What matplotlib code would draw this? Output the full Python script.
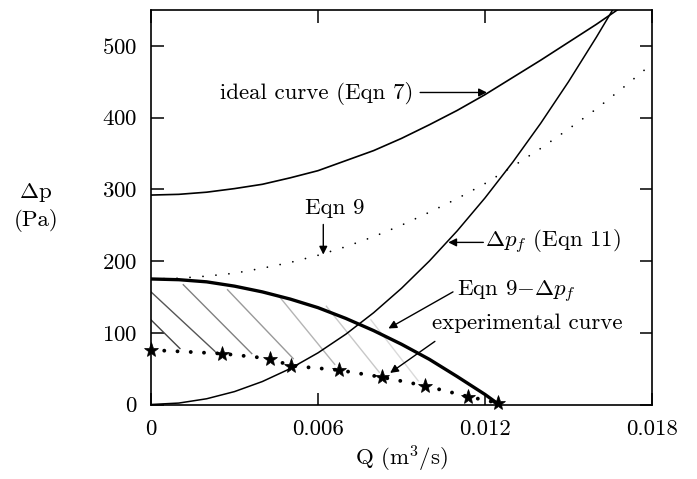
import matplotlib
matplotlib.use("Agg")
import matplotlib.pyplot as plt

plt.rcParams['font.family'] = ['cmr10', 'DejaVu Serif']
plt.rcParams['mathtext.fontset'] = 'cm'
plt.rcParams['axes.formatter.use_mathtext'] = True

# flow rate values (m^3/s)
q_curve = [0, 0.001, 0.002, 0.003, 0.004, 0.005, 0.006, 0.007, 0.008, 0.009,
           0.010, 0.011, 0.012, 0.013, 0.014, 0.015, 0.016, 0.0169]
ideal = [292, 293, 296, 301, 307, 316, 326, 340, 354, 371,
         390, 410, 432, 456, 480, 505, 530, 554]
q_dpf = [0, 0.001, 0.002, 0.003, 0.004, 0.005, 0.006, 0.007, 0.008, 0.009,
         0.010, 0.011, 0.012, 0.013, 0.014, 0.015, 0.016, 0.0166]
dp_f = [0, 2, 8, 18, 32, 50, 72, 98, 128, 162,
        200, 242, 288, 338, 392, 450, 512, 551]

q_eqn9 = [0, 0.001, 0.002, 0.003, 0.004, 0.005, 0.006, 0.007, 0.008, 0.009,
          0.010, 0.011, 0.012, 0.013, 0.014, 0.015, 0.016, 0.017, 0.018]
eqn9 = [175, 176, 179, 183, 190, 198, 208, 220, 234, 250,
        268, 287, 308, 332, 357, 384, 412, 443, 475]

q_diff = [0, 0.001, 0.002, 0.003, 0.004, 0.005, 0.006, 0.007, 0.008, 0.009,
          0.010, 0.011, 0.012, 0.0125]
eqn9_minus_dpf = [175, 174, 171, 165, 157, 147, 135, 120, 103, 84,
                  63, 39, 14, 0]

q_exp = [0, 0.00254, 0.00428, 0.00502, 0.00675, 0.00831, 0.00985, 0.0114, 0.01248]
dp_exp = [76, 71, 64, 54, 48, 38, 26, 11, 2]

# shading strokes between the two lower curves
hatch_q0 = [0, 0, 0.00116, 0.00275, 0.0046, 0.0063, 0.0079]
hatch_v0 = [118, 157, 167, 160, 151, 137, 118]
hatch_q1 = [0.00104, 0.0023, 0.00362, 0.00511, 0.0066, 0.0082, 0.0096]
hatch_v1 = [78, 74, 71, 64, 56, 45, 33]
hatch_gray = ['#444444', '#555555', '#808080', '#999999', '#b4b4b4', '#c8c8c8', '#dadada']

xticks = [0, 0.006, 0.012, 0.018]
xticklabels = ['0', '0.006', '0.012', '0.018']
yticks = [0, 100, 200, 300, 400, 500]

fs = 16.5

fig = plt.figure(figsize=(6.97, 4.79), dpi=100)
ax = fig.add_axes([151/697, 1-404.5/479, 501/697, 394.5/479])

for q0, v0, q1, v1, g in zip(hatch_q0, hatch_v0, hatch_q1, hatch_v1, hatch_gray):
    ax.plot([q0, q1], [v0, v1], color=g, lw=1.0)

ax.plot(q_curve, ideal, color='black', lw=1.2)
ax.plot(q_dpf, dp_f, color='black', lw=1.1)
ax.plot(q_eqn9, eqn9, color='black', lw=1.3, linestyle=(0, (0.01, 7.2)), dash_capstyle='round')
ax.plot(q_diff, eqn9_minus_dpf, color='black', lw=2.4)
ax.plot(q_exp, dp_exp, color='black', lw=2.8, linestyle=(0, (0.01, 3.4)), dash_capstyle='round')
ax.plot(q_exp, dp_exp, linestyle='none', marker='*', ms=11, mfc='black', mec='black', mew=0.5, clip_on=False)

ax.set_xlim(0, 0.018)
ax.set_ylim(0, 550)
ax.set_xticks(xticks)
ax.set_xticklabels(xticklabels)
ax.set_yticks(yticks)
ax.tick_params(direction='in', length=9, width=1.1, labelsize=fs, top=True, right=True)
ax.tick_params(axis='x', pad=11)
ax.tick_params(axis='y', pad=10)
for s in ax.spines.values():
    s.set_linewidth(1.2)

ax.set_xlabel(r'Q (m$^3$/s)', fontsize=fs, labelpad=3)
fig.text(36/697, 1-193/479, r'$\Delta$p', fontsize=fs, ha='center', va='center')
fig.text(36/697, 1-220/479, '(Pa)', fontsize=fs, ha='center', va='center')

arr = dict(arrowstyle='-|>', color='black', lw=1.0, mutation_scale=12, shrinkA=0, shrinkB=0)
ax.text(0.00248, 433, 'ideal curve (Eqn 7)', fontsize=fs, va='center', ha='left')
ax.annotate('', xy=(0.01207, 435), xytext=(0.00967, 435), arrowprops=arr)

ax.text(0.00661, 274, 'Eqn 9', fontsize=fs, va='center', ha='center')
ax.annotate('', xy=(0.00619, 209), xytext=(0.00619, 251), arrowprops=arr)

ax.text(0.01200, 226, r'$\Delta p_f$ (Eqn 11)', fontsize=fs, va='center', ha='left')
ax.annotate('', xy=(0.01068, 226), xytext=(0.01194, 226), arrowprops=arr)

ax.text(0.01100, 157, r'Eqn 9$-\Delta p_f$', fontsize=fs, va='center', ha='left')
ax.annotate('', xy=(0.00853, 106), xytext=(0.01085, 157), arrowprops=arr)

ax.text(0.01010, 113, 'experimental curve', fontsize=fs, va='center', ha='left')
ax.annotate('', xy=(0.00859, 44), xytext=(0.0102, 88), arrowprops=arr)

fig.savefig('out.png', dpi=100)
